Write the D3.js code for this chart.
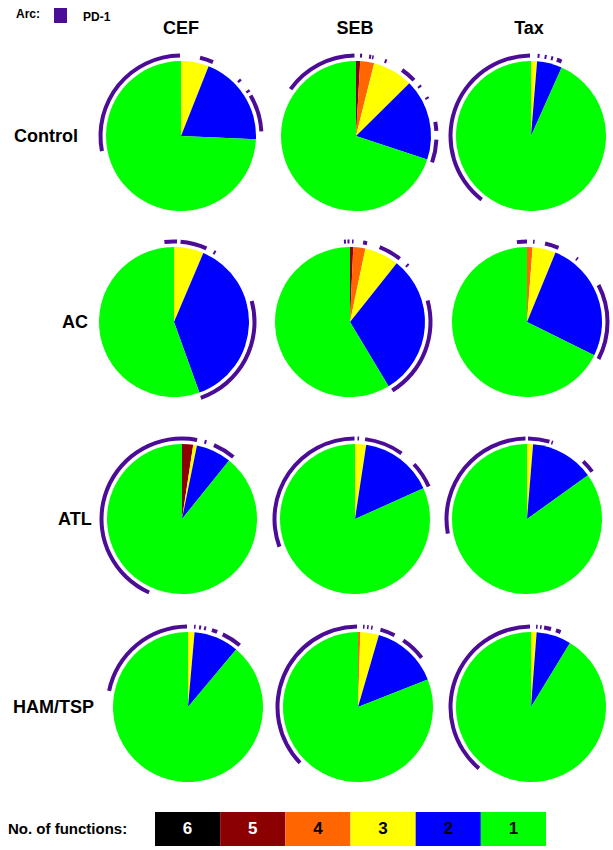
<!DOCTYPE html>
<html>
<head>
<meta charset="utf-8">
<script src="https://cdn.jsdelivr.net/npm/d3@7"></script>
<style>
  html, body { margin: 0; padding: 0; background: #fff; }
  svg { display: block; font-family: Arial, "Liberation Sans", sans-serif; }
</style>
</head>
<body>
<svg id="chart" width="613" height="850"></svg>
<script>
// ---------- data ----------
const stimuli = ["CEF", "SEB", "Tax"];
const groups = ["Control", "AC", "ATL", "HAM/TSP"];
const functionLevels = ["6", "5", "4", "3", "2", "1"];
const levelColors = ["#000000", "#8b0000", "#ff6600", "#ffff00", "#0000ff", "#00ff00"];
const levelTextColors = ["#ffffff", "#ffffff", "#000000", "#000000", "#000000", "#000000"];

// slice fractions per pie, in order of functions 6,5,4,3,2,1 (columns CEF, SEB, Tax)
const slicesControl = [
  [0, 0, 0, 0.060, 0.197, 0.743],
  [0, 0.009, 0.030, 0.087, 0.175, 0.699],
  [0, 0, 0, 0.013, 0.054, 0.933]
];
const slicesAC = [
  [0, 0, 0, 0.064, 0.381, 0.555],
  [0, 0.007, 0.026, 0.074, 0.307, 0.586],
  [0, 0, 0.012, 0.050, 0.261, 0.677]
];
const slicesATL = [
  [0, 0.024, 0, 0.008, 0.076, 0.892],
  [0, 0, 0, 0.024, 0.159, 0.817],
  [0, 0, 0, 0.013, 0.138, 0.849]
];
const slicesHAM = [
  [0, 0, 0, 0.014, 0.097, 0.889],
  [0, 0, 0.005, 0.040, 0.145, 0.810],
  [0, 0, 0, 0.012, 0.075, 0.913]
];

// PD-1 arcs: [start, end] as fraction of the circle, clockwise from 12 o'clock
const arcsControl = [
  [[0.720, 0.998], [0.038, 0.065], [0.127, 0.132], [0.154, 0.159], [0.166, 0.241]],
  [[0.849, 0.997], [0.008, 0.012], [0.026, 0.030], [0.032, 0.035], [0.058, 0.062], [0.097, 0.128], [0.143, 0.147], [0.170, 0.174], [0.222, 0.240], [0.257, 0.303]],
  [[0.605, 0.998], [0.013, 0.017], [0.027, 0.031], [0.040, 0.044], [0.052, 0.062]]
];
const arcsAC = [
  [[0.981, 1.000], [0.000, 0.006], [0.013, 0.066], [0.082, 0.086], [0.208, 0.446]],
  [[0.988, 0.992], [0.995, 0.999], [0.004, 0.007], [0.026, 0.034], [0.060, 0.106], [0.124, 0.128], [0.207, 0.412]],
  [[0.980, 1.000], [0.012, 0.015], [0.036, 0.064], [0.105, 0.108], [0.174, 0.326]]
];
const arcsATL = [
  [[0.567, 1.000], [0.000, 0.030], [0.045, 0.049], [0.065, 0.110]],
  [[0.694, 0.999], [0.005, 0.008], [0.020, 0.098], [0.131, 0.184]],
  [[0.721, 0.997], [0.002, 0.045], [0.049, 0.052], [0.123, 0.150]]
];
const arcsHAM = [
  [[0.782, 0.998], [0.012, 0.015], [0.022, 0.026], [0.032, 0.036], [0.048, 0.059], [0.071, 0.111]],
  [[0.628, 0.998], [0.010, 0.013], [0.018, 0.021], [0.026, 0.029], [0.045, 0.075], [0.095, 0.145]],
  [[0.612, 0.998], [0.010, 0.013], [0.018, 0.021], [0.026, 0.040], [0.050, 0.060]]
];

const allSlices = [slicesControl, slicesAC, slicesATL, slicesHAM];
const allArcs = [arcsControl, arcsAC, arcsATL, arcsHAM];

// ---------- layout ----------
const R = 75;
const rowY = [136, 322, 519, 707];
const rowShiftX = [[0, 1, 2], [-7, -5, -2], [1, 0, -2], [7, 3, 2]];
const rowLabelX = [14, 62, 58, 13];
const arcColor = "#4b0c96";

const svg = d3.select("#chart");
const xCol = d3.scalePoint().domain(stimuli).range([181, 529]);
const color = d3.scaleOrdinal().domain(functionLevels).range(levelColors);
const angle = d3.scaleLinear().domain([0, 1]).range([0, 2 * Math.PI]);

const pie = d3.pie().sort(null).value(d => d.v);
const sliceArc = d3.arc().innerRadius(0).outerRadius(R);
const pdArc = d3.arc().innerRadius(R + 3.5).outerRadius(R + 7.5);

// column headers
svg.selectAll("text.col").data(stimuli).join("text")
  .attr("class", "col")
  .attr("x", d => xCol(d))
  .attr("y", 34)
  .attr("text-anchor", "middle")
  .attr("font-weight", "bold")
  .attr("font-size", 18)
  .text(d => d);

// row labels
svg.selectAll("text.row").data(groups).join("text")
  .attr("class", "row")
  .attr("x", (d, i) => rowLabelX[i])
  .attr("y", (d, i) => rowY[i] + 1)
  .attr("font-weight", "bold")
  .attr("font-size", 18)
  .attr("dominant-baseline", "middle")
  .text(d => d);

// pies
groups.forEach((g, gi) => {
  stimuli.forEach((s, si) => {
    const cx = xCol(s) + rowShiftX[gi][si];
    const cy = rowY[gi];
    const gp = svg.append("g").attr("transform", `translate(${cx},${cy})`);
    const vals = allSlices[gi][si].map((v, k) => ({ v, level: functionLevels[k] }));
    gp.selectAll("path.slice").data(pie(vals).filter(d => d.data.v > 0)).join("path")
      .attr("class", "slice")
      .attr("d", sliceArc)
      .attr("fill", d => color(d.data.level));
    gp.selectAll("path.pd1").data(allArcs[gi][si]).join("path")
      .attr("class", "pd1")
      .attr("d", d => pdArc({ startAngle: angle(d[0]), endAngle: angle(d[1]) }))
      .attr("fill", arcColor);
  });
});

// top legend: Arc
svg.append("text").attr("x", 16).attr("y", 18)
  .attr("font-weight", "bold").attr("font-size", 12).text("Arc:");
svg.append("rect").attr("x", 54).attr("y", 8).attr("width", 13).attr("height", 15)
  .attr("fill", arcColor);
svg.append("text").attr("x", 83).attr("y", 21)
  .attr("font-weight", "bold").attr("font-size", 12).text("PD-1");

// bottom legend: No. of functions
svg.append("text").attr("x", 8).attr("y", 834)
  .attr("font-weight", "bold").attr("font-size", 15).text("No. of functions:");
const xLeg = d3.scaleBand().domain(functionLevels).range([155, 546]).padding(0);
const leg = svg.selectAll("g.leg").data(functionLevels).join("g").attr("class", "leg");
leg.append("rect")
  .attr("x", d => xLeg(d)).attr("y", 812)
  .attr("width", xLeg.bandwidth()).attr("height", 34)
  .attr("fill", d => color(d));
leg.append("text")
  .attr("x", d => xLeg(d) + xLeg.bandwidth() / 2).attr("y", 830)
  .attr("text-anchor", "middle").attr("dominant-baseline", "middle")
  .attr("font-weight", "bold").attr("font-size", 17)
  .attr("fill", (d, i) => levelTextColors[i])
  .text(d => d);
</script>
</body>
</html>
